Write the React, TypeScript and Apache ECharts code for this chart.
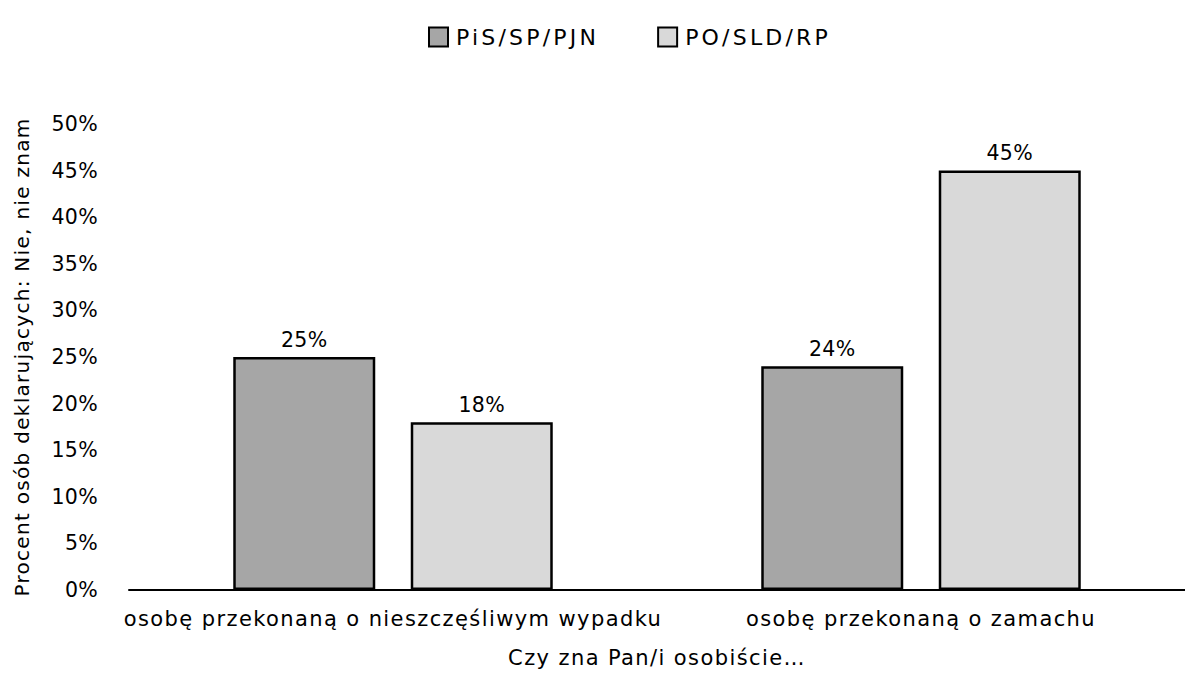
import React, { useEffect, useRef } from "react";
import * as echarts from "echarts";

const categories = ["osobę przekonaną o nieszczęśliwym wypadku", "osobę przekonaną o zamachu"];
const seriesNames = ["PiS/SP/PJN", "PO/SLD/RP"];
const pisValues = [25, 24];
const poValues = [18, 45];
const colors = ["#a6a6a6", "#d9d9d9"];
const yTickMax = 50;
const yTickStep = 5;

const FONT = "DejaVu Sans";

const css = `
#chart-root text { letter-spacing: 0.3px; }
#chart-root text[style*="21px"] { letter-spacing: 1.4px; }
#chart-root text[style*="20px"] { letter-spacing: 1.3px; }
#chart-root text[style*="22px"] { letter-spacing: 3.2px; }
`;

export default function App() {
  const ref = useRef<HTMLDivElement>(null);
  useEffect(() => {
    if (!ref.current) return;
    const chart = echarts.init(ref.current, null, { renderer: "svg" });
    const labelCfg = {
      show: true,
      position: "top",
      distance: 7,
      formatter: "{c}%",
      color: "#000",
      fontSize: 20.5,
      fontFamily: FONT,
    };
    chart.setOption({
      animation: false,
      textStyle: { fontFamily: FONT },
      legend: {
        left: 423,
        top: 21,
        icon: "rect",
        itemWidth: 19,
        itemHeight: 19,
        itemGap: 90,
        itemStyle: { borderColor: "#000", borderWidth: 2 },
        textStyle: { fontSize: 22, color: "#000", fontFamily: FONT, padding: [0, 0, 0, 3] },
        data: seriesNames,
      },
      grid: { left: 129, right: -10, top: 124, bottom: 82 },
      xAxis: {
        type: "category",
        data: categories,
        axisLine: { show: true, lineStyle: { color: "#000", width: 2 } },
        axisTick: { show: false },
        axisLabel: { color: "#000", fontSize: 21, margin: 18, interval: 0, fontFamily: FONT },
        name: "Czy zna Pan/i osobiście…",
        nameLocation: "middle",
        nameGap: 57,
        nameTextStyle: { color: "#000", fontSize: 21, fontFamily: FONT },
      },
      yAxis: {
        type: "value",
        min: 0,
        max: yTickMax,
        interval: yTickStep,
        axisLine: { show: false },
        axisTick: { show: false },
        splitLine: { show: false },
        axisLabel: { color: "#000", fontSize: 20.5, margin: 31, formatter: "{value}%", fontFamily: FONT },
        name: "Procent osób deklarujących: Nie, nie znam",
        nameLocation: "middle",
        nameRotate: 90,
        nameGap: 97,
        nameTextStyle: { color: "#000", fontSize: 20, fontFamily: FONT },
      },
      series: [
        {
          name: seriesNames[0],
          type: "bar",
          data: pisValues,
          barWidth: 142,
          barGap: "25%",
          itemStyle: { color: colors[0], borderColor: "#000", borderWidth: 2.5 },
          label: labelCfg,
        },
        {
          name: seriesNames[1],
          type: "bar",
          data: poValues,
          barWidth: 142,
          barGap: "25%",
          itemStyle: { color: colors[1], borderColor: "#000", borderWidth: 2.5 },
          label: labelCfg,
        },
      ],
    });
    return () => chart.dispose();
  }, []);
  return (
    <>
      <style>{css}</style>
      <div
        id="chart-root"
        ref={ref}
        style={{ position: "fixed", left: 0, top: 0, width: 1185, height: 673, background: "#fff" }}
      />
    </>
  );
}
